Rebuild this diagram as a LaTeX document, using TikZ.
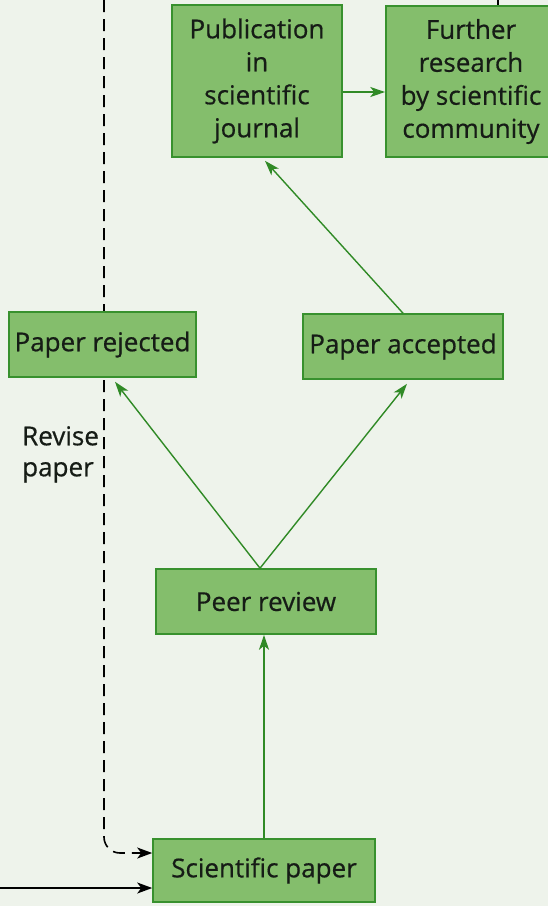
\documentclass[tikz,border=0pt]{standalone}
\usepackage{fontspec}
\setmainfont{Open Sans}[FakeBold=0.6]
\usetikzlibrary{arrows.meta,calc}

\definecolor{paperbg}{RGB}{238,243,235}
\definecolor{boxfill}{RGB}{132,190,108}
\definecolor{boxline}{RGB}{56,145,46}
\definecolor{flowgreen}{RGB}{48,138,38}
\definecolor{inktext}{RGB}{22,28,22}

\tikzset{
  stagebox/.style={draw=boxline, line width=1.6pt, fill=boxfill, text=inktext,
    align=center, inner sep=0pt, font=\fontsize{26}{33}\selectfont},
  greenflow/.style={draw=flowgreen, line width=1.4pt,
    -{Stealth[length=15pt,width=10pt,inset=4pt]}},
  blackflow/.style={draw=black, line width=1.6pt,
    -{Stealth[length=15pt,width=11pt,inset=4pt]}},
  revisepath/.style={blackflow, dash pattern=on 12pt off 7pt, rounded corners=16pt},
  sidelabel/.style={text=inktext, align=left, inner sep=0pt,
    font=\fontsize{26}{31}\selectfont}
}

\begin{document}
\begin{tikzpicture}[x=1pt,y=-1pt]
  \useasboundingbox (0,0) rectangle (548,906);
  \fill[paperbg] (0,0) rectangle (548,906);
  \clip (0,0) rectangle (548,906);

  % outside feeds
  \coordinate (revtop) at (104,0);
  \coordinate (srcleft) at (0,888);
  \coordinate (furtherout) at (498,0);

  % revision loop, drawn first so the rejected box covers it
  \node[stagebox, minimum width=222pt, minimum height=63pt] (sci) at (264,870.5) {Scientific paper};
  \draw[revisepath] (revtop) |- ([yshift=17.5pt]sci.west);

  % stages
  \node[stagebox, minimum width=170pt, minimum height=152pt] (pub) at (257,81)
    {Publication\\in\\scientific\\journal};
  \node[stagebox, minimum width=170pt, minimum height=151pt] (further) at (471,81.5)
    {Further\\research\\by scientific\\community};
  \node[stagebox, minimum width=187pt, minimum height=65pt] (rejected) at (102.5,344.5) {Paper rejected};
  \node[stagebox, minimum width=200pt, minimum height=65pt] (accepted) at (403,346.5) {Paper accepted};
  \node[stagebox, minimum width=220pt, minimum height=65pt] (peer) at (266,601.5) {Peer review};

  \node[sidelabel, anchor=north west] (revise) at (22,426) {Revise\\paper};

  % connectors
  \draw[blackflow] (srcleft) -- ([yshift=-17.5pt]sci.west);
  \draw[greenflow] (sci.north) -- (sci.north |- peer.south);
  \draw[greenflow] ([xshift=-6pt]peer.north) -- ([xshift=12.5pt,yshift=-4pt]rejected.south);
  \draw[greenflow] ([xshift=-6pt]peer.north) -- ([xshift=4pt,yshift=-4pt]accepted.south);
  \draw[greenflow] (accepted.north) -- ([xshift=8pt,yshift=-3pt]pub.south);
  \draw[greenflow] ([yshift=-11pt]pub.east) -- ([yshift=-11pt]pub.east -| further.west);
  \draw[black, line width=1.3pt] (furtherout |- further.north) -- (furtherout);
\end{tikzpicture}
\end{document}
